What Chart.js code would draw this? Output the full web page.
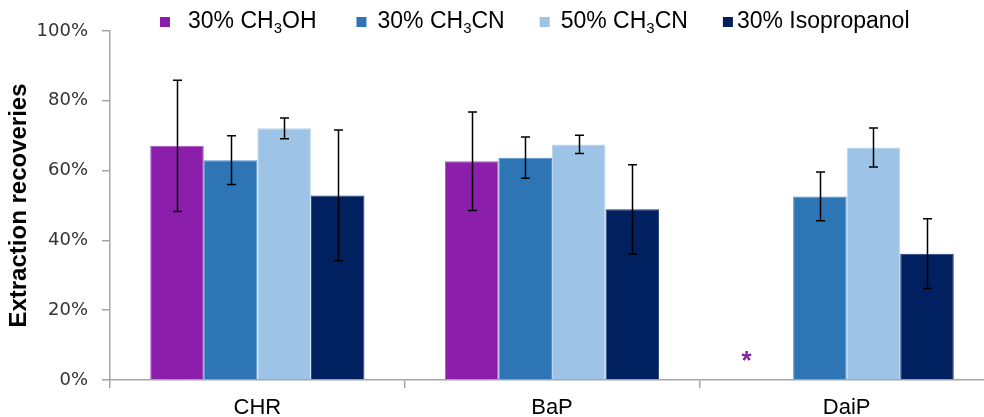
<!DOCTYPE html>
<html>
<head>
<meta charset="utf-8">
<script src="https://cdn.jsdelivr.net/npm/chart.js@4.4.1/dist/chart.umd.min.js"></script>
<style>
  html, body { margin: 0; padding: 0; background: #fff; overflow: hidden; }
  #wrap { position: absolute; left: 0; top: 0; width: 994px; height: 417px; }
</style>
</head>
<body>
<div id="wrap"><canvas id="c" width="994" height="417"></canvas></div>
<script>
// ---- data ----
const categories = ['CHR', 'BaP', 'DaiP'];
const seriesNames = ['30% CH3OH', '30% CH3CN', '50% CH3CN', '30% Isopropanol'];
const meohValues = [67.1, 62.7, null];
const meohErrors = [18.8, 14.1, null];
const acn30Values = [63.0, 63.7, 52.6];
const acn30Errors = [7.0, 5.9, 7.0];
const acn50Values = [72.1, 67.5, 66.6];
const acn50Errors = [3.0, 2.6, 5.6];
const isoValues = [52.9, 48.9, 36.2];
const isoErrors = [18.7, 12.8, 10.0];
const asteriskNotes = [null, null, 6.7]; // "*" marker for missing CH3OH value (DaiP)
const yTicks = [0, 20, 40, 60, 80, 100];

const colors = ['#8B1FAB', '#2E75B6', '#9DC3E6', '#002060'];
const borders = ['#A656C2', '#5590C8', '#B8D5EE', '#1F3C78'];

const seriesValues = [meohValues, acn30Values, acn50Values, isoValues];
const seriesErrors = [meohErrors, acn30Errors, acn50Errors, isoErrors];

const datasets = seriesNames.map((n, i) => ({
  label: n,
  data: seriesValues[i],
  errors: seriesErrors[i],
  backgroundColor: colors[i],
  borderColor: borders[i],
  borderWidth: 1,
  categoryPercentage: 0.727,
  barPercentage: 1.0
}));

const errorBarPlugin = {
  id: 'errorBars',
  afterDatasetsDraw(chart) {
    const ctx = chart.ctx;
    const y = chart.scales.y;
    ctx.save();
    ctx.strokeStyle = '#000';
    ctx.lineWidth = 1.5;
    chart.data.datasets.forEach((ds, di) => {
      const meta = chart.getDatasetMeta(di);
      meta.data.forEach((bar, i) => {
        const v = ds.data[i], e = ds.errors[i];
        if (v == null || e == null) return;
        const x = Math.round(bar.x) + 0.5;
        const yt = y.getPixelForValue(v + e);
        const yb = y.getPixelForValue(v - e);
        const cap = 4.5;
        ctx.beginPath();
        ctx.moveTo(x, yt); ctx.lineTo(x, yb);
        ctx.moveTo(x - cap, yt); ctx.lineTo(x + cap, yt);
        ctx.moveTo(x - cap, yb); ctx.lineTo(x + cap, yb);
        ctx.stroke();
      });
    });
    // asterisk notes for series 0
    const meta0 = chart.getDatasetMeta(0);
    ctx.fillStyle = colors[0];
    ctx.font = 'bold 26px "Liberation Sans", Arial, sans-serif';
    ctx.textAlign = 'center';
    ctx.textBaseline = 'middle';
    asteriskNotes.forEach((a, i) => {
      if (a == null) return;
      const bar = meta0.data[i];
      const x = bar.x - bar.width * 0.37;
      ctx.fillText('*', x, y.getPixelForValue(a) + 5);
    });
    ctx.restore();
  }
};

// draw text with the digit after "CH" rendered as subscript
function drawRich(ctx, text, x, yMid, size) {
  const parts = [];
  const re = /(CH)(3)/g;
  let last = 0, m;
  while ((m = re.exec(text)) !== null) {
    parts.push({ t: text.slice(last, m.index) + 'CH', sub: false });
    parts.push({ t: '3', sub: true });
    last = m.index + m[0].length;
  }
  parts.push({ t: text.slice(last), sub: false });
  let cx = x;
  parts.forEach(p => {
    if (!p.t) return;
    if (p.sub) {
      ctx.font = Math.round(size * 0.66) + 'px "Liberation Sans", Arial, sans-serif';
      ctx.fillText(p.t, cx, yMid + size * 0.28);
    } else {
      ctx.font = size + 'px "Liberation Sans", Arial, sans-serif';
      ctx.fillText(p.t, cx, yMid);
    }
    cx += ctx.measureText(p.t).width;
  });
  return cx - x;
}

const legendPlugin = {
  id: 'richLegend',
  afterDraw(chart) {
    const ctx = chart.ctx;
    ctx.save();
    ctx.textAlign = 'left';
    ctx.textBaseline = 'middle';
    const size = 23;
    const gaps = [18, 11, 11, 4];
    const after = [40, 35, 35, 0];
    let x = chart.chartArea.left + 50;
    const yMid = 22;
    seriesNames.forEach((n, i) => {
      ctx.fillStyle = colors[i];
      ctx.fillRect(x, yMid - 5, 10, 10);
      x += 10 + gaps[i];
      ctx.fillStyle = '#000';
      const w = drawRich(ctx, n, x, yMid, size);
      x += w + after[i];
    });
    ctx.restore();
  }
};

new Chart(document.getElementById('c'), {
  type: 'bar',
  data: { labels: categories, datasets },
  options: {
    responsive: false,
    animation: false,
    layout: { padding: { top: 31, right: 0, left: 0, bottom: 0 } },
    plugins: { legend: { display: false }, tooltip: { enabled: false } },
    scales: {
      x: {
        grid: { display: true, drawOnChartArea: false, offset: true, tickLength: 8, color: '#A6A6A6', lineWidth: 1.5 },
        border: { color: '#A6A6A6', width: 1.5 },
        ticks: { color: '#000', font: { family: '"Liberation Sans", Arial, sans-serif', size: 22 }, padding: 7 },
        afterFit(s) { s.height = 37; }
      },
      y: {
        min: 0, max: 100,
        afterBuildTicks(s) { s.ticks = yTicks.map(v => ({ value: v })); },
        grid: { display: true, drawOnChartArea: false, tickLength: 8, color: '#A6A6A6', lineWidth: 1.5 },
        border: { color: '#A6A6A6', width: 1.5 },
        ticks: { color: '#333333', padding: 14, font: { family: '"DejaVu Sans", sans-serif', size: 18 }, callback: v => v + '%' },
        title: { display: true, text: 'Extraction recoveries', color: '#000', font: { family: '"Liberation Sans", Arial, sans-serif', size: 24, weight: 'bold' }, padding: { top: 5, bottom: 0 } },
        afterFit(s) { s.width = 110; }
      }
    }
  },
  plugins: [errorBarPlugin, legendPlugin]
});
</script>
</body>
</html>
